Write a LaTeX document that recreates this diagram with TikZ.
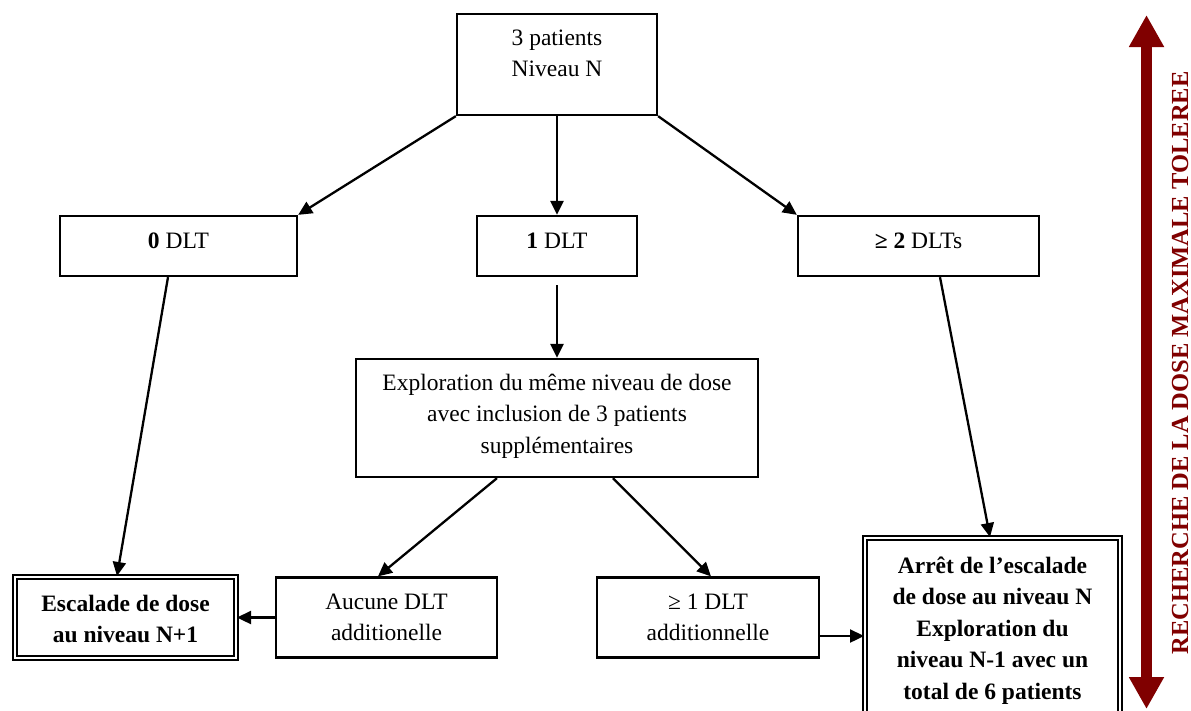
\documentclass[tikz,border=0pt]{standalone}
\usepackage{fontspec}
\setmainfont{Liberation Serif}
\usetikzlibrary{arrows.meta}
\definecolor{darkred}{RGB}{128,0,0}

\begin{document}
\begin{tikzpicture}[->,>={Triangle[length=14pt,width=13pt]},x=1pt,y=-1pt,line width=2.3pt,
                    box/.style={draw, rectangle, align=center, inner xsep=2pt, inner ysep=0pt,
                                text height=31.5pt, font=\fontsize{23.5}{31.5}\selectfont},
                    endbox/.style={box, double, double distance=2.6pt, line width=2pt,
                                   font=\bfseries\fontsize{23.5}{31.5}\selectfont},
                    ]
                    \useasboundingbox (0,0) rectangle (1191,710);

                    \node [box, minimum width=200pt, text height=62.5pt, text depth=38.5pt](top) at (557,64.5){3 patients\\Niveau N};

                    \node [box, minimum width=237pt, text height=32pt, text depth=28pt](dlt0) at (178.5,246){\textbf{0} DLT};
                    \node [box, minimum width=160pt, text height=32pt, text depth=28pt](dlt1) at (557,246){\textbf{1} DLT};
                    \node [box, minimum width=241pt, text height=32pt, text depth=28pt](dlt2) at (918.5,246){\textbf{≥ 2} DLTs};

                    \node [box, minimum width=402pt, text height=94pt, text depth=24pt](explo) at (557,418){Exploration du même niveau de dose\\avec inclusion de 3 patients\\supplémentaires};

                    \node [box, minimum width=221pt, text height=63pt, text depth=17pt](aucune) at (386.5,617.5){Aucune DLT\\additionelle};
                    \node [box, minimum width=222pt, text height=63pt, text depth=17pt](plus1) at (708,617.5){≥ 1 DLT\\additionnelle};

                    \node [endbox, minimum width=221pt, text height=65.5pt, text depth=15.5pt](escal) at (125.5,617.5){Escalade de dose\\au niveau N+1};
                    \node [endbox, minimum width=255pt, text height=161pt, text depth=21pt](arret) at (992.5,629){Arrêt de l’escalade\\de dose au niveau N\\Exploration du\\niveau N-1 avec un\\total de 6 patients};

                    \path
                        (top.south west) edge (dlt0.north east)
                        (top.south) edge (dlt1.north)
                        (top.south east) edge (dlt2.north west)

                        ([xshift=-10.5pt]dlt0.south) edge ([xshift=-8.5pt]escal.north)
                        ([yshift=-8pt]dlt1.south) edge (explo.north)
                        ([xshift=21.5pt]dlt2.south) edge ([xshift=-2.5pt]arret.north)

                        ([xshift=-60pt]explo.south) edge ([xshift=-8.5pt]aucune.north)
                        ([xshift=56pt]explo.south) edge ([xshift=3pt]plus1.north)

                        (aucune.west) edge (escal.east)
                        ([yshift=-18.5pt]plus1.east) edge ([yshift=-18.5pt]plus1.east -| arret.west)
                    ;

                    % mtd axis
                    \coordinate (uptip) at (1146.5,15);
                    \coordinate (downtip) at (1146.5,709);
                    \draw[darkred, line width=11pt, {Triangle[length=32pt,width=33pt]}-{Triangle[length=32pt,width=33pt]}] (uptip) -- (downtip);
                    \node [rotate=90, text=darkred, font=\bfseries\fontsize{24.5}{28}\selectfont](mtd) at (1180,363){RECHERCHE DE LA DOSE MAXIMALE TOLEREE};

                \end{tikzpicture}
\end{document}
